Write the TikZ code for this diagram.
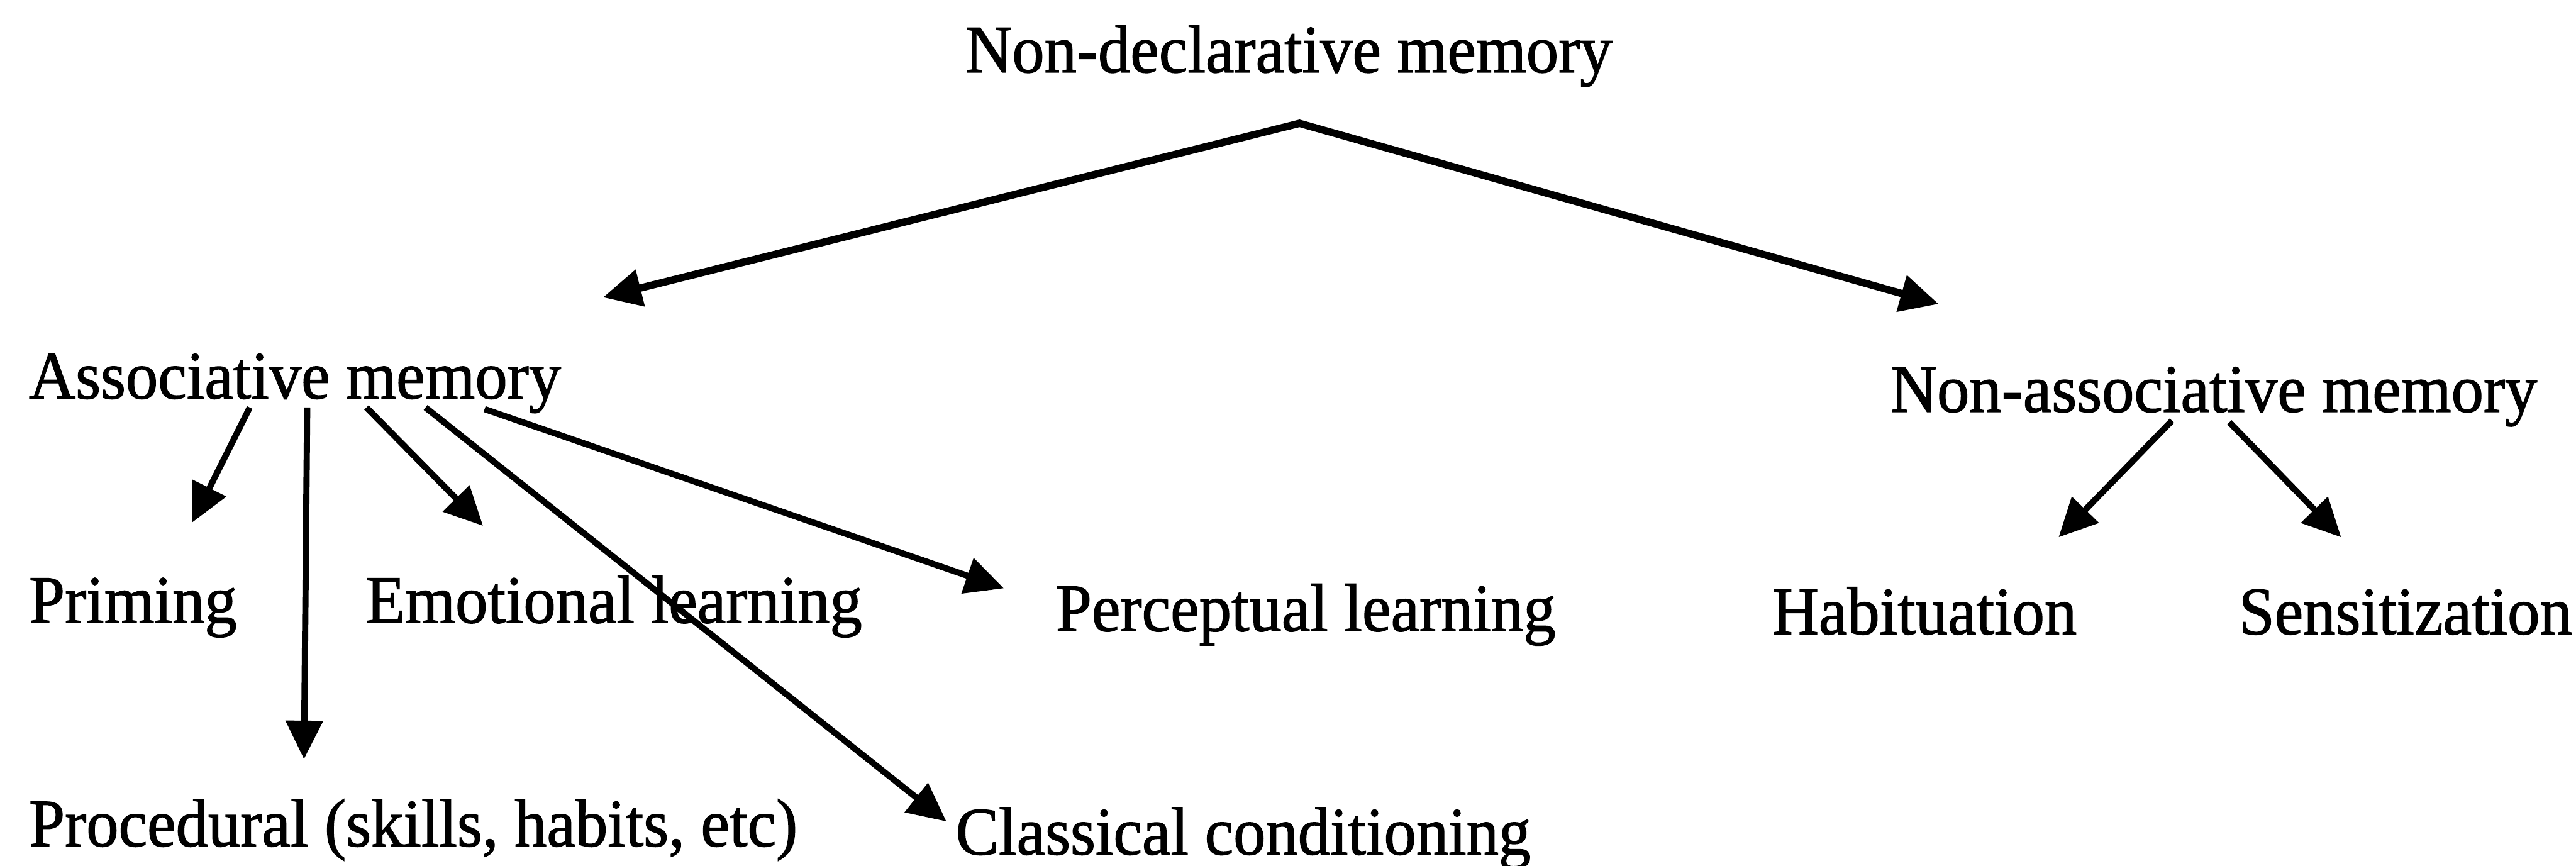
\documentclass[tikz,border=0pt]{standalone}
\usepackage{fontspec}
\setmainfont[FakeStretch=0.95,FakeBold=1.2]{Liberation Serif}
\usetikzlibrary{arrows.meta}
\tikzstyle{every node}=[inner sep=0pt,anchor=base west,font=\fontsize{12}{14}\selectfont]
\tikzstyle{arr}=[line width=1.1pt,-{Triangle[length=6.8pt,width=6.4pt]}]
\tikzstyle{toparr}=[line width=1.3pt,line join=miter,{Triangle[length=6.8pt,width=6.4pt]}-{Triangle[length=6.8pt,width=6.4pt]}]

\begin{document}
\begin{tikzpicture}
	\useasboundingbox (0,0) rectangle (16,5.378);
	\node (nondecl) at (5.990,4.929) {Non-declarative memory};
	\node (assoc) at (0.173,2.903) {Associative memory};
	\node (nonassoc) at (11.735,2.820) {Non-associative memory};
	\node (priming) at (0.173,1.510) {Priming};
	\node (emot) at (2.265,1.510) {Emotional learning};
	\node (percep) at (6.551,1.459) {Perceptual learning};
	\node (habit) at (11.000,1.439) {Habituation};
	\node (sensit) at (13.898,1.439) {Sensitization};
	\node (proced) at (0.173,0.122) {Procedural (skills, habits, etc)};
	\node (classic) at (5.929,0.071) {Classical conditioning};

	\coordinate (apex) at ([shift={(2.081,-0.317)}]nondecl.base west);
	\draw[toparr] ([shift={(3.572,0.628)}]assoc.base west) -- (apex) -- ([shift={(0.306,0.670)}]nonassoc.base west);

	\draw[arr] ([shift={(1.378,-0.056)}]assoc.base west) -- ([shift={(1.021,0.623)}]priming.base west);
	\draw[arr] ([shift={(1.735,-0.056)}]assoc.base west) -- ([shift={(1.715,0.541)}]proced.base west);
	\draw[arr] ([shift={(2.103,-0.056)}]assoc.base west) -- ([shift={(0.735,0.602)}]emot.base west);
	\draw[arr] ([shift={(2.470,-0.056)}]assoc.base west) -- ([shift={(-0.051,0.205)}]classic.base west);
	\draw[arr] ([shift={(2.837,-0.066)}]assoc.base west) -- ([shift={(-0.316,0.265)}]percep.base west);

	\draw[arr] ([shift={(1.755,-0.055)}]nonassoc.base west) -- ([shift={(1.786,0.602)}]habit.base west);
	\draw[arr] ([shift={(2.112,-0.065)}]nonassoc.base west) -- ([shift={(0.643,0.602)}]sensit.base west);
\end{tikzpicture}
\end{document}
